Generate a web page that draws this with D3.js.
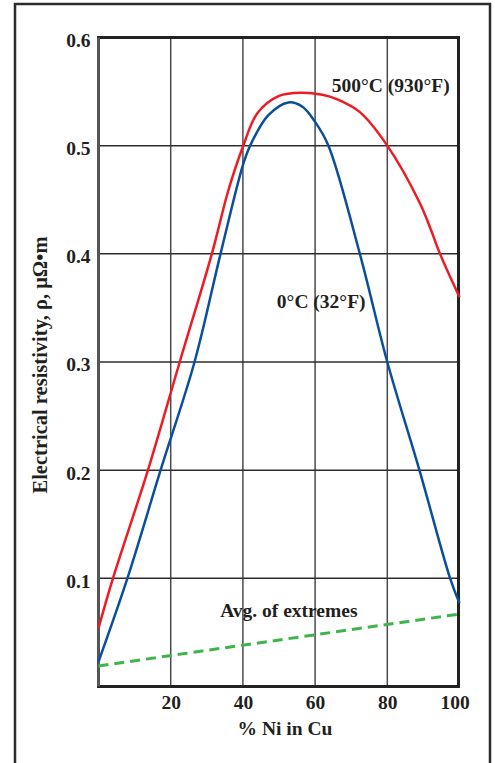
<!DOCTYPE html>
<html>
<head>
<meta charset="utf-8">
<script src="https://cdn.jsdelivr.net/npm/d3@7"></script>
<style>
  body { margin: 0; background: #fff; }
  text { font-family: "Liberation Serif", "Times New Roman", serif; font-weight: bold; fill: #231f20; }
</style>
</head>
<body>
<svg class="chart" width="495" height="763"></svg>
<script>
// % Ni in Cu and resistivity (uOhm m)
var hotNi = [0, 4, 13.7, 22.5, 31.4, 36, 40, 44, 50, 56.3, 62, 66, 72.4, 80, 89, 92, 94.6, 100];
var hotRho = [0.054, 0.10, 0.20, 0.30, 0.40, 0.459, 0.499, 0.530, 0.546, 0.549, 0.547, 0.543, 0.531, 0.50, 0.447, 0.423, 0.40, 0.36];

var coldNi = [0, 8, 17.2, 26.6, 33.8, 40, 42, 47, 52.6, 56.5, 60, 63.7, 72.4, 80, 88.9, 97.4, 100];
var coldRho = [0.023, 0.10, 0.20, 0.30, 0.40, 0.482, 0.50, 0.528, 0.540, 0.536, 0.522, 0.50, 0.40, 0.30, 0.20, 0.10, 0.077];

var avgNi = [0, 100];
var avgRho = [0.019, 0.067];

var xTicks = [20, 40, 60, 80, 100];
var yTicks = [0.1, 0.2, 0.3, 0.4, 0.5, 0.6];

var svg = d3.select(".chart"),
  margin = {top: 37.5, right: 36.5, bottom: 76.5, left: 98.5},
  width = +svg.attr("width") - margin.left - margin.right,
  height = +svg.attr("height") - margin.top - margin.bottom,
  main = svg.append("g").attr("transform", "translate(" + margin.left + "," + margin.top + ")");

// outer frame (runs off the bottom of the picture)
svg.append("rect")
  .attr("x", 15).attr("y", 4)
  .attr("width", 475).attr("height", 800)
  .attr("fill", "none")
  .attr("stroke", "#2b2b2b")
  .attr("stroke-width", 2.5);

var x = d3.scaleLinear().domain([0, 100]).range([0, 361]);
var y = d3.scaleLinear().domain([0, 0.6]).range([height, 0]);

// grid
main.append("g").selectAll("line.vgrid")
  .data(xTicks.slice(0, -1))
  .enter().append("line")
  .attr("class", "vgrid")
  .attr("x1", function(d) {return x(d)}).attr("x2", function(d) {return x(d)})
  .attr("y1", 0).attr("y2", height)
  .attr("stroke", "#4a4a4a").attr("stroke-width", 1.5);

main.append("g").selectAll("line.hgrid")
  .data(yTicks.slice(0, -1))
  .enter().append("line")
  .attr("class", "hgrid")
  .attr("x1", 0).attr("x2", width)
  .attr("y1", function(d) {return y(d)}).attr("y2", function(d) {return y(d)})
  .attr("stroke", "#2e2e2e").attr("stroke-width", 1.5);

// axes, labels only
var xaxis = d3.axisBottom(x).tickValues(xTicks).tickSize(0).tickPadding(9).tickFormat(d3.format("d"));
var yaxis = d3.axisLeft(y).tickValues(yTicks).tickSize(0).tickPadding(8).tickFormat(d3.format(".1f"));

var gx = main.append("g").attr("class", "xaxis").attr("transform", "translate(0," + height + ")").call(xaxis);
var gy = main.append("g").attr("class", "yaxis").call(yaxis);
[gx, gy].forEach(function(g) {
  g.select(".domain").remove();
  g.selectAll("text")
    .attr("font-family", null).attr("font-size", null).attr("fill", null)
    .style("font-size", "19.5px");
});
gx.selectAll("text").attr("dy", "0.71em").filter(function(d) {return d == 100}).attr("dx", -5);
gy.selectAll("text").attr("dy", "0.46em");

// plot border
main.append("rect")
  .attr("width", width).attr("height", height)
  .attr("fill", "none")
  .attr("stroke", "#222").attr("stroke-width", 3);
main.append("line")
  .attr("x1", 0).attr("x2", 0).attr("y1", 0).attr("y2", height)
  .attr("stroke", "#555").attr("stroke-width", 3);

// curves
function series(xs, ys) {
  return xs.map(function(d, i) {return {Ni: d, Rho: ys[i]}});
}
var line = d3.line()
  .x(function(d) {return x(d.Ni)})
  .y(function(d) {return y(d.Rho)})
  .curve(d3.curveCatmullRom.alpha(0.5));

main.append("path")
  .datum(series(avgNi, avgRho))
  .attr("fill", "none")
  .attr("stroke", "#3db54a")
  .attr("stroke-width", 3)
  .attr("stroke-dasharray", "10,6")
  .attr("d", line);

main.append("path")
  .datum(series(hotNi, hotRho))
  .attr("fill", "none")
  .attr("stroke", "#ed1c24")
  .attr("stroke-width", 2.5)
  .attr("d", line);

main.append("path")
  .datum(series(coldNi, coldRho))
  .attr("fill", "none")
  .attr("stroke", "#0a4f9c")
  .attr("stroke-width", 2.5)
  .attr("d", line);

// curve labels
main.append("text").attr("x", x(64.6)).attr("y", y(0.550)).style("font-size", "19.5px").text("500°C (930°F)");
main.append("text").attr("x", x(49.4)).attr("y", y(0.350)).style("font-size", "19.5px").text("0°C (32°F)");
main.append("text").attr("x", x(33.7)).attr("y", y(0.0645)).style("font-size", "19.5px").text("Avg. of extremes");

// axis titles
svg.append("text")
  .attr("x", 285).attr("y", 735)
  .attr("text-anchor", "middle")
  .style("font-size", "19.5px")
  .text("% Ni in Cu");

svg.append("text")
  .attr("transform", "translate(47,365) rotate(-90)")
  .attr("text-anchor", "middle")
  .style("font-size", "20.5px")
  .text("Electrical resistivity, ρ, μΩ•m");
</script>
</body>
</html>
